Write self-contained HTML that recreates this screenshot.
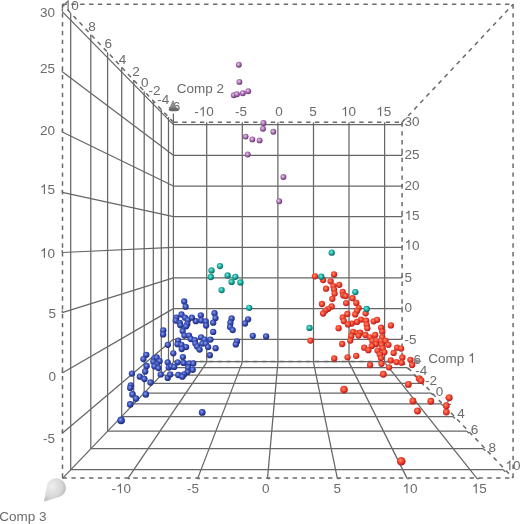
<!DOCTYPE html>
<html><head><meta charset="utf-8"><style>
html,body{margin:0;padding:0;background:#fff;}
body{width:520px;height:524px;overflow:hidden;position:relative;}
svg{position:absolute;left:0;top:0;}
.g{stroke:#666;stroke-width:1.25;}
.d{stroke:#6a6a6a;stroke-width:1.5;stroke-dasharray:4.4 4.45;}
.tx{filter:grayscale(1);} .one1{fill-opacity:0;} text{font-family:"Liberation Sans",sans-serif;font-size:13.5px;fill:#6b6b6b;}
</style></head><body>
<svg width="520" height="524" viewBox="0 0 520 524">
<defs>
<radialGradient id="gr" cx="0.42" cy="0.4" r="0.62"><stop offset="0" stop-color="#ff8c68"/><stop offset="0.5" stop-color="#f0462f"/><stop offset="0.85" stop-color="#c82020"/><stop offset="1" stop-color="#a01414"/></radialGradient>
<radialGradient id="gb" cx="0.42" cy="0.4" r="0.62"><stop offset="0" stop-color="#8ca0e8"/><stop offset="0.5" stop-color="#3a50b8"/><stop offset="0.85" stop-color="#23318a"/><stop offset="1" stop-color="#161e62"/></radialGradient>
<radialGradient id="gt" cx="0.42" cy="0.4" r="0.62"><stop offset="0" stop-color="#72f2e2"/><stop offset="0.5" stop-color="#1eb0a2"/><stop offset="0.85" stop-color="#0b7672"/><stop offset="1" stop-color="#06504e"/></radialGradient>
<radialGradient id="gp" cx="0.42" cy="0.4" r="0.62"><stop offset="0" stop-color="#eccaee"/><stop offset="0.45" stop-color="#b47cbc"/><stop offset="0.8" stop-color="#80468a"/><stop offset="1" stop-color="#5a2a60"/></radialGradient>
<radialGradient id="cone" cx="0.35" cy="0.35" r="0.75"><stop offset="0" stop-color="#eeeeee"/><stop offset="0.6" stop-color="#d8d8d8"/><stop offset="1" stop-color="#b0b0b0"/></radialGradient>
</defs>
<line class="g" x1="206.7" y1="122.3" x2="206.7" y2="362.4"/>
<line class="g" x1="242.3" y1="122.3" x2="242.3" y2="362.4"/>
<line class="g" x1="277.9" y1="122.3" x2="277.9" y2="362.4"/>
<line class="g" x1="313.5" y1="122.3" x2="313.5" y2="362.4"/>
<line class="g" x1="349.0" y1="122.3" x2="349.0" y2="362.4"/>
<line class="g" x1="384.6" y1="122.3" x2="384.6" y2="362.4"/>
<line class="g" x1="173.4" y1="339.3" x2="402.1" y2="339.3"/>
<line class="g" x1="173.4" y1="308.6" x2="402.1" y2="308.6"/>
<line class="g" x1="173.4" y1="277.9" x2="402.1" y2="277.9"/>
<line class="g" x1="173.4" y1="247.3" x2="402.1" y2="247.3"/>
<line class="g" x1="173.4" y1="216.6" x2="402.1" y2="216.6"/>
<line class="g" x1="173.4" y1="186.0" x2="402.1" y2="186.0"/>
<line class="g" x1="173.4" y1="155.3" x2="402.1" y2="155.3"/>
<line class="g" x1="173.4" y1="124.6" x2="402.1" y2="124.6"/>
<line class="g" x1="168.5" y1="117.0" x2="168.5" y2="367.5"/>
<line class="g" x1="161.3" y1="109.5" x2="161.3" y2="375.0"/>
<line class="g" x1="153.3" y1="100.9" x2="153.3" y2="383.4"/>
<line class="g" x1="144.2" y1="91.2" x2="144.2" y2="393.0"/>
<line class="g" x1="133.7" y1="80.1" x2="133.7" y2="403.9"/>
<line class="g" x1="121.7" y1="67.2" x2="121.7" y2="416.5"/>
<line class="g" x1="107.6" y1="52.2" x2="107.6" y2="431.2"/>
<line class="g" x1="90.8" y1="34.5" x2="90.8" y2="448.7"/>
<line class="g" x1="70.7" y1="13.1" x2="70.7" y2="469.7"/>
<line class="g" x1="173.4" y1="339.3" x2="62.3" y2="433.2"/>
<line class="g" x1="173.4" y1="308.6" x2="62.3" y2="373.0"/>
<line class="g" x1="173.4" y1="277.9" x2="62.3" y2="312.7"/>
<line class="g" x1="173.4" y1="247.3" x2="62.3" y2="252.5"/>
<line class="g" x1="173.4" y1="216.6" x2="62.3" y2="192.3"/>
<line class="g" x1="173.4" y1="186.0" x2="62.3" y2="132.0"/>
<line class="g" x1="173.4" y1="155.3" x2="62.3" y2="71.8"/>
<line class="g" x1="173.4" y1="124.6" x2="62.3" y2="11.6"/>
<line class="g" x1="206.7" y1="362.4" x2="127.8" y2="478.6"/>
<line class="g" x1="242.3" y1="362.4" x2="197.6" y2="478.6"/>
<line class="g" x1="277.9" y1="362.4" x2="267.5" y2="478.6"/>
<line class="g" x1="313.5" y1="362.4" x2="337.4" y2="478.6"/>
<line class="g" x1="349.0" y1="362.4" x2="407.2" y2="478.6"/>
<line class="g" x1="384.6" y1="362.4" x2="477.1" y2="478.6"/>
<line class="g" x1="168.5" y1="367.5" x2="407.0" y2="367.5"/>
<line class="g" x1="161.3" y1="375.0" x2="414.0" y2="375.0"/>
<line class="g" x1="153.3" y1="383.4" x2="421.9" y2="383.4"/>
<line class="g" x1="144.2" y1="393.0" x2="430.9" y2="393.0"/>
<line class="g" x1="133.7" y1="403.9" x2="441.2" y2="403.9"/>
<line class="g" x1="121.7" y1="416.5" x2="453.0" y2="416.5"/>
<line class="g" x1="107.6" y1="431.2" x2="466.9" y2="431.2"/>
<line class="g" x1="90.8" y1="448.7" x2="483.4" y2="448.7"/>
<line class="g" x1="70.7" y1="469.7" x2="503.2" y2="469.7"/>
<line class="g" x1="173.4" y1="362.4" x2="62.3" y2="478.6"/>
<line class="g" x1="173.4" y1="361.7" x2="402.1" y2="361.7"/>
<line class="g" x1="173.4" y1="113.5" x2="173.4" y2="362.4"/>
<line class="g" x1="402.1" y1="339.3" x2="402.1" y2="337.1"/>
<line class="g" x1="62.3" y1="433.2" x2="62.3" y2="430.7"/>
<line class="g" x1="402.1" y1="308.6" x2="402.1" y2="306.4"/>
<line class="g" x1="62.3" y1="373.0" x2="62.3" y2="370.5"/>
<line class="g" x1="402.1" y1="277.9" x2="402.1" y2="275.7"/>
<line class="g" x1="62.3" y1="312.7" x2="62.3" y2="310.2"/>
<line class="g" x1="402.1" y1="247.3" x2="402.1" y2="245.1"/>
<line class="g" x1="62.3" y1="252.5" x2="62.3" y2="250.0"/>
<line class="g" x1="402.1" y1="216.6" x2="402.1" y2="214.4"/>
<line class="g" x1="62.3" y1="192.3" x2="62.3" y2="189.8"/>
<line class="g" x1="402.1" y1="186.0" x2="402.1" y2="183.8"/>
<line class="g" x1="62.3" y1="132.0" x2="62.3" y2="129.5"/>
<line class="g" x1="402.1" y1="155.3" x2="402.1" y2="153.1"/>
<line class="g" x1="62.3" y1="71.8" x2="62.3" y2="69.3"/>
<line class="g" x1="402.1" y1="124.6" x2="402.1" y2="122.4"/>
<line class="g" x1="62.3" y1="11.6" x2="62.3" y2="9.1"/>
<line class="g" x1="127.8" y1="478.6" x2="130.0" y2="478.6"/>
<line class="g" x1="197.6" y1="478.6" x2="199.8" y2="478.6"/>
<line class="g" x1="267.5" y1="478.6" x2="269.7" y2="478.6"/>
<line class="g" x1="337.4" y1="478.6" x2="339.6" y2="478.6"/>
<line class="g" x1="407.2" y1="478.6" x2="409.4" y2="478.6"/>
<line class="g" x1="477.1" y1="478.6" x2="479.3" y2="478.6"/>
<line class="g" x1="407.0" y1="367.5" x2="409.0" y2="369.5"/>
<line class="g" x1="414.0" y1="375.0" x2="416.0" y2="377.0"/>
<line class="g" x1="421.9" y1="383.4" x2="423.9" y2="385.4"/>
<line class="g" x1="430.9" y1="393.0" x2="432.9" y2="395.0"/>
<line class="g" x1="441.2" y1="403.9" x2="443.2" y2="405.9"/>
<line class="g" x1="453.0" y1="416.5" x2="455.0" y2="418.5"/>
<line class="g" x1="466.9" y1="431.2" x2="468.9" y2="433.2"/>
<line class="g" x1="483.4" y1="448.7" x2="485.4" y2="450.7"/>
<line class="g" x1="503.2" y1="469.7" x2="505.2" y2="471.7"/>
<line class="d" x1="62.5" y1="478.0" x2="513.1" y2="478.0"/>
<line class="d" x1="62.5" y1="4.3" x2="513.1" y2="4.3"/>
<line class="d" x1="62.5" y1="4.3" x2="62.5" y2="478.0"/>
<line class="d" x1="513.1" y1="4.3" x2="513.1" y2="478.0"/>
<line class="d" x1="173.4" y1="122.3" x2="402.1" y2="122.3"/>
<line class="d" x1="402.1" y1="122.3" x2="402.1" y2="361.5"/>
<line class="d" x1="173.4" y1="122.3" x2="62.5" y2="4.3"/>
<line class="d" x1="402.1" y1="122.3" x2="513.1" y2="4.3"/>
<line class="d" x1="402.1" y1="361.5" x2="513.1" y2="478.0"/>
<line class="d" x1="173.4" y1="361.5" x2="402.1" y2="361.5"/>
<g class="tx">
<text id="L0" x="55.0" y="16.8" text-anchor="end">30</text>
<text id="L1" x="55.0" y="72.7" text-anchor="end">25</text>
<text id="L2" x="55.0" y="135.3" text-anchor="end">20</text>
<text id="L3" x="55.0" y="193.9" text-anchor="end"><tspan class="one1">1</tspan>5</text>
<path d="M45.00,193.90 L45.00,184.24 L44.23,184.24 Q43.92,184.82 43.18,185.49 Q42.43,186.15 41.44,186.62 L41.44,187.77 Q41.99,187.57 42.68,187.16 Q43.38,186.75 43.81,186.34 L43.81,193.90 Z" fill="#6b6b6b"/>
<text id="L4" x="55.0" y="257.7" text-anchor="end"><tspan class="one1">1</tspan>0</text>
<path d="M45.00,257.70 L45.00,248.04 L44.23,248.04 Q43.92,248.62 43.18,249.29 Q42.43,249.95 41.44,250.42 L41.44,251.57 Q41.99,251.37 42.68,250.96 Q43.38,250.55 43.81,250.14 L43.81,257.70 Z" fill="#6b6b6b"/>
<text id="L5" x="55.9" y="318.4" text-anchor="end">5</text>
<text id="L6" x="55.9" y="380.7" text-anchor="end">0</text>
<text id="L7" x="55.0" y="443.2" text-anchor="end">-5</text>
<text id="L8" x="404.5" y="125.7" text-anchor="start">30</text>
<text id="L9" x="404.5" y="159.3" text-anchor="start">25</text>
<text id="L10" x="404.5" y="190.2" text-anchor="start">20</text>
<text id="L11" x="404.5" y="220.1" text-anchor="start"><tspan class="one1">1</tspan>5</text>
<path d="M409.53,220.10 L409.53,210.44 L408.76,210.44 Q408.46,211.02 407.71,211.69 Q406.97,212.35 405.97,212.82 L405.97,213.97 Q406.52,213.77 407.22,213.36 Q407.91,212.95 408.34,212.54 L408.34,220.10 Z" fill="#6b6b6b"/>
<text id="L12" x="404.5" y="249.5" text-anchor="start"><tspan class="one1">1</tspan>0</text>
<path d="M409.53,249.50 L409.53,239.84 L408.76,239.84 Q408.46,240.42 407.71,241.09 Q406.97,241.75 405.97,242.22 L405.97,243.37 Q406.52,243.17 407.22,242.76 Q407.91,242.35 408.34,241.94 L408.34,249.50 Z" fill="#6b6b6b"/>
<text id="L13" x="404.5" y="281.9" text-anchor="start">5</text>
<text id="L14" x="404.5" y="312.2" text-anchor="start">0</text>
<text id="L15" x="404.5" y="343.7" text-anchor="start">-5</text>
<text id="L16" x="204.1" y="116.3" text-anchor="middle">-<tspan class="one1">1</tspan>0</text>
<path d="M203.86,116.30 L203.86,106.64 L203.09,106.64 Q202.79,107.22 202.04,107.89 Q201.30,108.55 200.30,109.02 L200.30,110.17 Q200.86,109.97 201.55,109.56 Q202.25,109.15 202.68,108.74 L202.68,116.30 Z" fill="#6b6b6b"/>
<text id="L17" x="241.0" y="116.3" text-anchor="middle">-5</text>
<text id="L18" x="279.1" y="116.3" text-anchor="middle">0</text>
<text id="L19" x="313.0" y="116.3" text-anchor="middle">5</text>
<text id="L20" x="348.6" y="116.3" text-anchor="middle"><tspan class="one1">1</tspan>0</text>
<path d="M346.11,116.30 L346.11,106.64 L345.34,106.64 Q345.04,107.22 344.29,107.89 Q343.55,108.55 342.55,109.02 L342.55,110.17 Q343.11,109.97 343.80,109.56 Q344.50,109.15 344.93,108.74 L344.93,116.30 Z" fill="#6b6b6b"/>
<text id="L21" x="383.7" y="116.3" text-anchor="middle"><tspan class="one1">1</tspan>5</text>
<path d="M381.21,116.30 L381.21,106.64 L380.44,106.64 Q380.14,107.22 379.39,107.89 Q378.65,108.55 377.65,109.02 L377.65,110.17 Q378.21,109.97 378.90,109.56 Q379.60,109.15 380.03,108.74 L380.03,116.30 Z" fill="#6b6b6b"/>
<text id="L22" x="71.2" y="9.9" text-anchor="middle"><tspan class="one1">1</tspan>0</text>
<path d="M68.71,9.90 L68.71,0.24 L67.94,0.24 Q67.64,0.82 66.89,1.49 Q66.15,2.15 65.15,2.62 L65.15,3.77 Q65.71,3.57 66.40,3.16 Q67.10,2.75 67.53,2.34 L67.53,9.90 Z" fill="#6b6b6b"/>
<text id="L23" x="92.0" y="31.2" text-anchor="middle">8</text>
<text id="L24" x="108.2" y="47.8" text-anchor="middle">6</text>
<text id="L25" x="122.6" y="63.9" text-anchor="middle">4</text>
<text id="L26" x="135.9" y="75.5" text-anchor="middle">2</text>
<text id="L27" x="144.7" y="86.7" text-anchor="middle">0</text>
<text id="L28" x="154.6" y="94.6" text-anchor="middle">-2</text>
<text id="L29" x="163.2" y="104.3" text-anchor="middle">-4</text>
<text id="L30" x="174.2" y="110.7" text-anchor="middle">-6</text>
<text id="L31" x="415.0" y="364.0" text-anchor="middle">-6</text>
<text id="L32" x="421.2" y="375.2" text-anchor="middle">-4</text>
<text id="L33" x="431.0" y="384.7" text-anchor="middle">-2</text>
<text id="L34" x="439.4" y="395.5" text-anchor="middle">0</text>
<text id="L35" x="448.0" y="405.2" text-anchor="middle">2</text>
<text id="L36" x="461.1" y="418.1" text-anchor="middle">4</text>
<text id="L37" x="474.4" y="433.9" text-anchor="middle">6</text>
<text id="L38" x="492.2" y="451.9" text-anchor="middle">8</text>
<text id="L39" x="512.9" y="470.2" text-anchor="middle"><tspan class="one1">1</tspan>0</text>
<path d="M510.41,470.20 L510.41,460.54 L509.64,460.54 Q509.34,461.12 508.59,461.79 Q507.85,462.45 506.85,462.92 L506.85,464.07 Q507.41,463.87 508.10,463.46 Q508.80,463.05 509.23,462.64 L509.23,470.20 Z" fill="#6b6b6b"/>
<text id="L40" x="121.3" y="493.2" text-anchor="middle">-<tspan class="one1">1</tspan>0</text>
<path d="M121.06,493.20 L121.06,483.54 L120.29,483.54 Q119.99,484.12 119.24,484.79 Q118.50,485.45 117.50,485.92 L117.50,487.07 Q118.06,486.87 118.75,486.46 Q119.45,486.05 119.88,485.64 L119.88,493.20 Z" fill="#6b6b6b"/>
<text id="L41" x="192.9" y="493.2" text-anchor="middle">-5</text>
<text id="L42" x="265.8" y="493.2" text-anchor="middle">0</text>
<text id="L43" x="337.3" y="493.2" text-anchor="middle">5</text>
<text id="L44" x="410.0" y="493.2" text-anchor="middle"><tspan class="one1">1</tspan>0</text>
<path d="M407.51,493.20 L407.51,483.54 L406.74,483.54 Q406.44,484.12 405.69,484.79 Q404.95,485.45 403.95,485.92 L403.95,487.07 Q404.51,486.87 405.20,486.46 Q405.90,486.05 406.33,485.64 L406.33,493.20 Z" fill="#6b6b6b"/>
<text id="L45" x="479.3" y="493.2" text-anchor="middle"><tspan class="one1">1</tspan>5</text>
<path d="M476.81,493.20 L476.81,483.54 L476.04,483.54 Q475.74,484.12 474.99,484.79 Q474.25,485.45 473.25,485.92 L473.25,487.07 Q473.81,486.87 474.50,486.46 Q475.20,486.05 475.63,485.64 L475.63,493.20 Z" fill="#6b6b6b"/>
<text id="L46" x="200.4" y="93.1" text-anchor="middle">Comp 2</text>
<text id="L47" x="451.9" y="362.7" text-anchor="middle">Comp <tspan class="one1">1</tspan></text>
<path d="M473.05,362.70 L473.05,353.04 L472.28,353.04 Q471.98,353.62 471.24,354.29 Q470.49,354.95 469.49,355.42 L469.49,356.57 Q470.05,356.37 470.74,355.96 Q471.44,355.55 471.87,355.14 L471.87,362.70 Z" fill="#6b6b6b"/>
<text id="L48" x="22.9" y="520.9" text-anchor="middle">Comp 3</text>
</g>
<g><path d="M173,99.8 L169.3,108.3 L177,108.3 Z" fill="#8c8c8c"/><ellipse cx="173.6" cy="109.4" rx="5" ry="1.9" fill="#6a6a6a"/></g>
<path d="M413.8,358.6 L421.8,361.5 L413.8,364 Z" fill="#888"/>
<path d="M44,501.6 L46.9,486.1 A9.6,9.6 0 1 1 59.1,497.0 Z" fill="url(#cone)"/>
<circle cx="238.8" cy="64.7" r="2.95" fill="url(#gp)"/>
<circle cx="239.4" cy="81.9" r="2.95" fill="url(#gp)"/>
<circle cx="233.8" cy="95.3" r="2.95" fill="url(#gp)"/>
<circle cx="236.9" cy="94.2" r="2.95" fill="url(#gp)"/>
<circle cx="242.8" cy="93.2" r="2.95" fill="url(#gp)"/>
<circle cx="248.2" cy="91.2" r="2.95" fill="url(#gp)"/>
<circle cx="263.4" cy="123.0" r="2.95" fill="url(#gp)"/>
<circle cx="263.0" cy="128.7" r="2.95" fill="url(#gp)"/>
<circle cx="273.3" cy="131.8" r="2.95" fill="url(#gp)"/>
<circle cx="245.6" cy="136.6" r="2.95" fill="url(#gp)"/>
<circle cx="252.3" cy="139.4" r="2.95" fill="url(#gp)"/>
<circle cx="259.6" cy="140.4" r="2.95" fill="url(#gp)"/>
<circle cx="247.7" cy="154.5" r="2.95" fill="url(#gp)"/>
<circle cx="283.4" cy="177.0" r="2.95" fill="url(#gp)"/>
<circle cx="279.2" cy="201.3" r="2.95" fill="url(#gp)"/>
<circle cx="200.8" cy="315.3" r="3.15" fill="url(#gb)"/>
<circle cx="195.8" cy="321.2" r="3.15" fill="url(#gb)"/>
<circle cx="201.2" cy="320.4" r="3.15" fill="url(#gb)"/>
<circle cx="205.8" cy="321.5" r="3.15" fill="url(#gb)"/>
<circle cx="206.1" cy="325.5" r="3.15" fill="url(#gb)"/>
<circle cx="214.5" cy="313.2" r="3.15" fill="url(#gb)"/>
<circle cx="215.5" cy="318.1" r="3.15" fill="url(#gb)"/>
<circle cx="213.2" cy="322.7" r="3.15" fill="url(#gb)"/>
<circle cx="213.2" cy="331.9" r="3.15" fill="url(#gb)"/>
<circle cx="231.6" cy="318.4" r="3.15" fill="url(#gb)"/>
<circle cx="230.4" cy="322.7" r="3.15" fill="url(#gb)"/>
<circle cx="230.1" cy="327.0" r="3.15" fill="url(#gb)"/>
<circle cx="232.7" cy="330.1" r="3.15" fill="url(#gb)"/>
<circle cx="248.1" cy="319.3" r="3.15" fill="url(#gb)"/>
<circle cx="245.0" cy="323.5" r="3.15" fill="url(#gb)"/>
<circle cx="252.8" cy="335.8" r="3.15" fill="url(#gb)"/>
<circle cx="266.1" cy="336.4" r="3.15" fill="url(#gb)"/>
<circle cx="163.3" cy="330.4" r="3.15" fill="url(#gb)"/>
<circle cx="163.1" cy="334.4" r="3.15" fill="url(#gb)"/>
<circle cx="184.2" cy="301.5" r="3.15" fill="url(#gb)"/>
<circle cx="185.6" cy="306.7" r="3.15" fill="url(#gb)"/>
<circle cx="181.5" cy="314.5" r="3.15" fill="url(#gb)"/>
<circle cx="176.3" cy="317.7" r="3.15" fill="url(#gb)"/>
<circle cx="175.8" cy="320.6" r="3.15" fill="url(#gb)"/>
<circle cx="179.8" cy="322.9" r="3.15" fill="url(#gb)"/>
<circle cx="180.4" cy="325.2" r="3.15" fill="url(#gb)"/>
<circle cx="185.0" cy="317.7" r="3.15" fill="url(#gb)"/>
<circle cx="187.9" cy="320.0" r="3.15" fill="url(#gb)"/>
<circle cx="187.3" cy="324.0" r="3.15" fill="url(#gb)"/>
<circle cx="186.1" cy="326.3" r="3.15" fill="url(#gb)"/>
<circle cx="191.9" cy="317.7" r="3.15" fill="url(#gb)"/>
<circle cx="182.7" cy="331.0" r="3.15" fill="url(#gb)"/>
<circle cx="184.4" cy="335.6" r="3.15" fill="url(#gb)"/>
<circle cx="189.0" cy="335.6" r="3.15" fill="url(#gb)"/>
<circle cx="190.8" cy="339.0" r="3.15" fill="url(#gb)"/>
<circle cx="194.8" cy="340.2" r="3.15" fill="url(#gb)"/>
<circle cx="201.1" cy="337.3" r="3.15" fill="url(#gb)"/>
<circle cx="204.6" cy="339.6" r="3.15" fill="url(#gb)"/>
<circle cx="210.4" cy="339.6" r="3.15" fill="url(#gb)"/>
<circle cx="178.1" cy="340.7" r="3.15" fill="url(#gb)"/>
<circle cx="177.5" cy="344.2" r="3.15" fill="url(#gb)"/>
<circle cx="181.5" cy="344.8" r="3.15" fill="url(#gb)"/>
<circle cx="186.1" cy="347.1" r="3.15" fill="url(#gb)"/>
<circle cx="195.4" cy="343.6" r="3.15" fill="url(#gb)"/>
<circle cx="197.1" cy="346.5" r="3.15" fill="url(#gb)"/>
<circle cx="202.3" cy="343.6" r="3.15" fill="url(#gb)"/>
<circle cx="205.8" cy="343.6" r="3.15" fill="url(#gb)"/>
<circle cx="208.1" cy="347.1" r="3.15" fill="url(#gb)"/>
<circle cx="215.6" cy="348.2" r="3.15" fill="url(#gb)"/>
<circle cx="237.0" cy="341.5" r="3.15" fill="url(#gb)"/>
<circle cx="235.8" cy="344.4" r="3.15" fill="url(#gb)"/>
<circle cx="146.3" cy="354.8" r="3.15" fill="url(#gb)"/>
<circle cx="143.4" cy="359.1" r="3.15" fill="url(#gb)"/>
<circle cx="146.7" cy="366.0" r="3.15" fill="url(#gb)"/>
<circle cx="145.2" cy="371.5" r="3.15" fill="url(#gb)"/>
<circle cx="131.9" cy="373.6" r="3.15" fill="url(#gb)"/>
<circle cx="139.8" cy="376.7" r="3.15" fill="url(#gb)"/>
<circle cx="144.4" cy="379.0" r="3.15" fill="url(#gb)"/>
<circle cx="150.4" cy="382.5" r="3.15" fill="url(#gb)"/>
<circle cx="130.8" cy="385.4" r="3.15" fill="url(#gb)"/>
<circle cx="130.2" cy="387.9" r="3.15" fill="url(#gb)"/>
<circle cx="132.5" cy="394.4" r="3.3" fill="url(#gb)"/>
<circle cx="136.0" cy="398.6" r="3.3" fill="url(#gb)"/>
<circle cx="145.8" cy="394.4" r="3.3" fill="url(#gb)"/>
<circle cx="130.2" cy="404.4" r="3.3" fill="url(#gb)"/>
<circle cx="154.4" cy="358.3" r="3.15" fill="url(#gb)"/>
<circle cx="156.7" cy="357.5" r="3.15" fill="url(#gb)"/>
<circle cx="153.3" cy="361.7" r="3.15" fill="url(#gb)"/>
<circle cx="159.6" cy="361.1" r="3.15" fill="url(#gb)"/>
<circle cx="156.7" cy="364.6" r="3.15" fill="url(#gb)"/>
<circle cx="154.4" cy="366.3" r="3.15" fill="url(#gb)"/>
<circle cx="158.4" cy="368.1" r="3.15" fill="url(#gb)"/>
<circle cx="160.7" cy="374.4" r="3.15" fill="url(#gb)"/>
<circle cx="167.7" cy="362.3" r="3.15" fill="url(#gb)"/>
<circle cx="168.8" cy="367.5" r="3.15" fill="url(#gb)"/>
<circle cx="167.7" cy="377.9" r="3.15" fill="url(#gb)"/>
<circle cx="167.8" cy="344.8" r="3.15" fill="url(#gb)"/>
<circle cx="181.7" cy="349.0" r="3.15" fill="url(#gb)"/>
<circle cx="199.6" cy="349.6" r="3.15" fill="url(#gb)"/>
<circle cx="209.8" cy="355.2" r="3.15" fill="url(#gb)"/>
<circle cx="173.3" cy="353.3" r="3.15" fill="url(#gb)"/>
<circle cx="182.9" cy="357.1" r="3.15" fill="url(#gb)"/>
<circle cx="177.7" cy="362.3" r="3.15" fill="url(#gb)"/>
<circle cx="183.5" cy="362.9" r="3.15" fill="url(#gb)"/>
<circle cx="189.2" cy="363.5" r="3.15" fill="url(#gb)"/>
<circle cx="193.3" cy="363.5" r="3.15" fill="url(#gb)"/>
<circle cx="171.3" cy="366.3" r="3.15" fill="url(#gb)"/>
<circle cx="174.2" cy="366.9" r="3.15" fill="url(#gb)"/>
<circle cx="188.1" cy="367.5" r="3.15" fill="url(#gb)"/>
<circle cx="192.7" cy="369.8" r="3.15" fill="url(#gb)"/>
<circle cx="187.5" cy="372.1" r="3.15" fill="url(#gb)"/>
<circle cx="184.0" cy="374.4" r="3.15" fill="url(#gb)"/>
<circle cx="178.3" cy="375.0" r="3.15" fill="url(#gb)"/>
<circle cx="182.3" cy="376.7" r="3.15" fill="url(#gb)"/>
<circle cx="170.2" cy="374.4" r="3.15" fill="url(#gb)"/>
<circle cx="121.1" cy="420.4" r="3.8" fill="url(#gb)"/>
<circle cx="202.2" cy="412.4" r="3.4" fill="url(#gb)"/>
<circle cx="315.0" cy="276.3" r="3.15" fill="url(#gr)"/>
<circle cx="323.1" cy="280.1" r="3.15" fill="url(#gr)"/>
<circle cx="334.0" cy="274.4" r="3.15" fill="url(#gr)"/>
<circle cx="330.6" cy="281.3" r="3.15" fill="url(#gr)"/>
<circle cx="339.2" cy="284.8" r="3.15" fill="url(#gr)"/>
<circle cx="333.4" cy="286.1" r="3.15" fill="url(#gr)"/>
<circle cx="326.0" cy="288.7" r="3.15" fill="url(#gr)"/>
<circle cx="334.0" cy="289.6" r="3.15" fill="url(#gr)"/>
<circle cx="334.6" cy="293.6" r="3.15" fill="url(#gr)"/>
<circle cx="342.7" cy="291.9" r="3.15" fill="url(#gr)"/>
<circle cx="343.3" cy="295.4" r="3.15" fill="url(#gr)"/>
<circle cx="345.6" cy="296.0" r="3.15" fill="url(#gr)"/>
<circle cx="352.5" cy="298.2" r="3.15" fill="url(#gr)"/>
<circle cx="332.3" cy="298.8" r="3.15" fill="url(#gr)"/>
<circle cx="356.3" cy="302.9" r="3.15" fill="url(#gr)"/>
<circle cx="358.7" cy="308.1" r="3.15" fill="url(#gr)"/>
<circle cx="356.9" cy="310.9" r="3.15" fill="url(#gr)"/>
<circle cx="355.2" cy="314.4" r="3.15" fill="url(#gr)"/>
<circle cx="365.6" cy="313.3" r="3.15" fill="url(#gr)"/>
<circle cx="361.0" cy="319.6" r="3.15" fill="url(#gr)"/>
<circle cx="356.9" cy="321.9" r="3.15" fill="url(#gr)"/>
<circle cx="351.7" cy="323.6" r="3.15" fill="url(#gr)"/>
<circle cx="366.1" cy="320.7" r="3.15" fill="url(#gr)"/>
<circle cx="366.7" cy="324.8" r="3.15" fill="url(#gr)"/>
<circle cx="367.3" cy="328.2" r="3.15" fill="url(#gr)"/>
<circle cx="373.6" cy="321.3" r="3.15" fill="url(#gr)"/>
<circle cx="377.1" cy="319.8" r="3.15" fill="url(#gr)"/>
<circle cx="390.9" cy="325.4" r="3.15" fill="url(#gr)"/>
<circle cx="381.1" cy="327.7" r="3.15" fill="url(#gr)"/>
<circle cx="321.9" cy="304.0" r="3.15" fill="url(#gr)"/>
<circle cx="346.1" cy="303.1" r="3.15" fill="url(#gr)"/>
<circle cx="331.7" cy="306.5" r="3.15" fill="url(#gr)"/>
<circle cx="328.3" cy="308.8" r="3.15" fill="url(#gr)"/>
<circle cx="325.4" cy="310.6" r="3.15" fill="url(#gr)"/>
<circle cx="323.1" cy="313.5" r="3.15" fill="url(#gr)"/>
<circle cx="347.3" cy="314.0" r="3.15" fill="url(#gr)"/>
<circle cx="342.7" cy="317.5" r="3.15" fill="url(#gr)"/>
<circle cx="343.8" cy="321.0" r="3.15" fill="url(#gr)"/>
<circle cx="347.9" cy="324.4" r="3.15" fill="url(#gr)"/>
<circle cx="338.6" cy="328.2" r="3.15" fill="url(#gr)"/>
<circle cx="353.1" cy="331.9" r="3.15" fill="url(#gr)"/>
<circle cx="357.7" cy="333.1" r="3.15" fill="url(#gr)"/>
<circle cx="351.3" cy="336.0" r="3.15" fill="url(#gr)"/>
<circle cx="350.2" cy="340.6" r="3.15" fill="url(#gr)"/>
<circle cx="310.4" cy="340.6" r="3.15" fill="url(#gr)"/>
<circle cx="342.1" cy="344.0" r="3.15" fill="url(#gr)"/>
<circle cx="382.1" cy="331.5" r="3.15" fill="url(#gr)"/>
<circle cx="360.2" cy="332.7" r="3.15" fill="url(#gr)"/>
<circle cx="358.5" cy="335.6" r="3.15" fill="url(#gr)"/>
<circle cx="365.4" cy="335.0" r="3.15" fill="url(#gr)"/>
<circle cx="370.0" cy="337.3" r="3.15" fill="url(#gr)"/>
<circle cx="375.2" cy="335.0" r="3.15" fill="url(#gr)"/>
<circle cx="382.1" cy="337.3" r="3.15" fill="url(#gr)"/>
<circle cx="372.3" cy="340.8" r="3.15" fill="url(#gr)"/>
<circle cx="376.3" cy="341.3" r="3.15" fill="url(#gr)"/>
<circle cx="381.0" cy="340.8" r="3.15" fill="url(#gr)"/>
<circle cx="385.6" cy="340.8" r="3.15" fill="url(#gr)"/>
<circle cx="375.8" cy="344.2" r="3.15" fill="url(#gr)"/>
<circle cx="381.5" cy="344.8" r="3.15" fill="url(#gr)"/>
<circle cx="388.4" cy="344.8" r="3.15" fill="url(#gr)"/>
<circle cx="371.7" cy="346.0" r="3.15" fill="url(#gr)"/>
<circle cx="364.2" cy="347.7" r="3.15" fill="url(#gr)"/>
<circle cx="368.3" cy="350.2" r="3.15" fill="url(#gr)"/>
<circle cx="382.7" cy="348.3" r="3.15" fill="url(#gr)"/>
<circle cx="377.5" cy="350.6" r="3.15" fill="url(#gr)"/>
<circle cx="384.4" cy="352.3" r="3.15" fill="url(#gr)"/>
<circle cx="379.8" cy="354.6" r="3.15" fill="url(#gr)"/>
<circle cx="381.0" cy="358.1" r="3.15" fill="url(#gr)"/>
<circle cx="381.5" cy="363.8" r="3.15" fill="url(#gr)"/>
<circle cx="397.1" cy="347.7" r="3.15" fill="url(#gr)"/>
<circle cx="401.1" cy="348.6" r="3.15" fill="url(#gr)"/>
<circle cx="393.6" cy="352.9" r="3.15" fill="url(#gr)"/>
<circle cx="402.3" cy="357.5" r="3.15" fill="url(#gr)"/>
<circle cx="390.8" cy="360.4" r="3.15" fill="url(#gr)"/>
<circle cx="396.5" cy="362.1" r="3.15" fill="url(#gr)"/>
<circle cx="401.7" cy="362.7" r="3.15" fill="url(#gr)"/>
<circle cx="410.4" cy="359.8" r="3.15" fill="url(#gr)"/>
<circle cx="412.1" cy="365.0" r="3.15" fill="url(#gr)"/>
<circle cx="356.2" cy="355.8" r="3.15" fill="url(#gr)"/>
<circle cx="370.0" cy="365.0" r="3.15" fill="url(#gr)"/>
<circle cx="389.0" cy="367.3" r="3.15" fill="url(#gr)"/>
<circle cx="383.3" cy="374.2" r="3.45" fill="url(#gr)"/>
<circle cx="419.2" cy="378.6" r="3.45" fill="url(#gr)"/>
<circle cx="421.0" cy="380.6" r="3.45" fill="url(#gr)"/>
<circle cx="408.3" cy="384.4" r="3.45" fill="url(#gr)"/>
<circle cx="449.2" cy="397.7" r="3.45" fill="url(#gr)"/>
<circle cx="430.8" cy="401.2" r="3.45" fill="url(#gr)"/>
<circle cx="412.9" cy="401.0" r="3.45" fill="url(#gr)"/>
<circle cx="344.0" cy="389.6" r="3.8" fill="url(#gr)"/>
<circle cx="446.3" cy="405.8" r="3.45" fill="url(#gr)"/>
<circle cx="446.3" cy="412.1" r="3.45" fill="url(#gr)"/>
<circle cx="417.5" cy="411.0" r="3.45" fill="url(#gr)"/>
<circle cx="334.2" cy="358.5" r="3.15" fill="url(#gr)"/>
<circle cx="347.5" cy="357.3" r="3.15" fill="url(#gr)"/>
<circle cx="401.2" cy="461.2" r="4.3" fill="url(#gr)"/>
<circle cx="219.9" cy="266.1" r="3.15" fill="url(#gt)"/>
<circle cx="211.5" cy="270.4" r="3.15" fill="url(#gt)"/>
<circle cx="210.8" cy="277.0" r="3.15" fill="url(#gt)"/>
<circle cx="227.6" cy="275.5" r="3.15" fill="url(#gt)"/>
<circle cx="235.3" cy="276.8" r="3.15" fill="url(#gt)"/>
<circle cx="231.6" cy="281.9" r="3.15" fill="url(#gt)"/>
<circle cx="240.4" cy="282.4" r="3.15" fill="url(#gt)"/>
<circle cx="221.6" cy="290.1" r="3.15" fill="url(#gt)"/>
<circle cx="249.2" cy="307.8" r="3.15" fill="url(#gt)"/>
<circle cx="331.7" cy="252.7" r="3.15" fill="url(#gt)"/>
<circle cx="321.3" cy="276.7" r="3.15" fill="url(#gt)"/>
<circle cx="355.3" cy="292.1" r="3.15" fill="url(#gt)"/>
<circle cx="366.7" cy="309.0" r="3.15" fill="url(#gt)"/>
<circle cx="309.5" cy="327.9" r="3.15" fill="url(#gt)"/>
</svg>
</body></html>
